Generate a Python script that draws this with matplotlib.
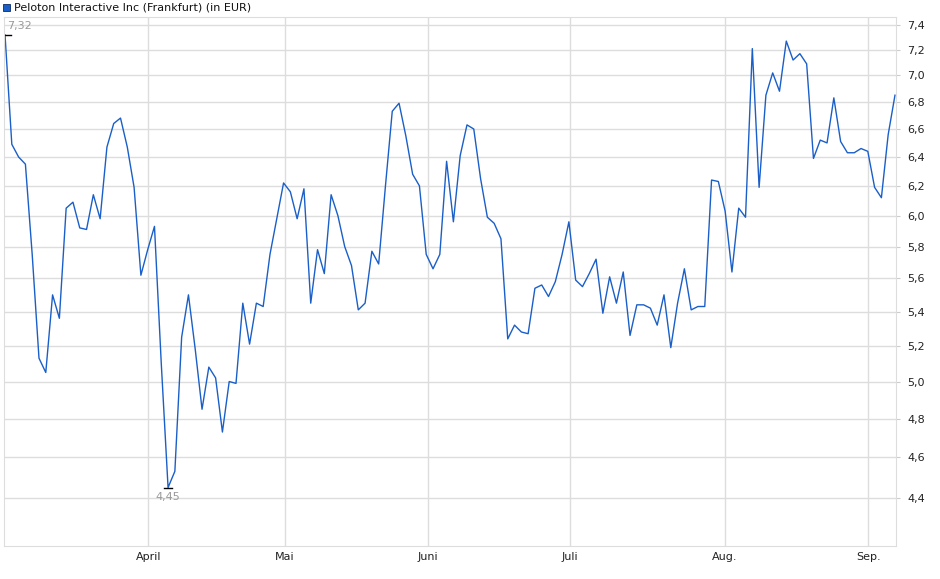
import matplotlib
matplotlib.use("Agg")
import matplotlib.pyplot as plt
from matplotlib.ticker import FixedLocator, NullLocator
import numpy as np

prices = [7.32, 6.49, 6.40, 6.35, 5.75, 5.13, 5.05, 5.50, 5.36, 6.05,
          6.09, 5.92, 5.91, 6.14, 5.98, 6.47, 6.64, 6.68, 6.47, 6.19,
          5.62, 5.78, 5.93, 5.10, 4.45, 4.53, 5.25, 5.50, 5.18, 4.85,
          5.08, 5.02, 4.73, 5.00, 4.99, 5.45, 5.21, 5.45, 5.43, 5.75,
          5.98, 6.22, 6.16, 5.98, 6.18, 5.45, 5.78, 5.63, 6.14, 6.00,
          5.80, 5.68, 5.41, 5.45, 5.77, 5.69, 6.20, 6.73, 6.79, 6.55,
          6.28, 6.20, 5.75, 5.66, 5.75, 6.37, 5.96, 6.41, 6.63, 6.60,
          6.25, 5.99, 5.95, 5.85, 5.24, 5.32, 5.28, 5.27, 5.54, 5.56,
          5.49, 5.58, 5.75, 5.96, 5.59, 5.55, 5.63, 5.72, 5.39, 5.61,
          5.45, 5.64, 5.26, 5.44, 5.44, 5.42, 5.32, 5.50, 5.19, 5.45,
          5.66, 5.41, 5.43, 5.43, 6.24, 6.23, 6.03, 5.64, 6.05, 5.99,
          7.21, 6.19, 6.85, 7.02, 6.88, 7.27, 7.12, 7.17, 7.09, 6.39,
          6.52, 6.50, 6.83, 6.51, 6.43, 6.43, 6.46, 6.44, 6.19, 6.12,
          6.56, 6.85]
month_labels = ["April", "Mai", "Juni", "Juli", "Aug.", "Sep."]
month_pos = [21.1, 41.2, 62.2, 83.2, 106.0, 127.1]
y_ticks = [4.4, 4.6, 4.8, 5.0, 5.2, 5.4, 5.6, 5.8, 6.0, 6.2, 6.4, 6.6, 6.8, 7.0, 7.2, 7.4]
hi_val, lo_val = 7.32, 4.45

W, H = 940, 579
fig = plt.figure(figsize=(W/100, H/100), dpi=100)
ax = fig.add_axes([4/W, 1-546/H, (896-4)/W, (546-17)/H])
x = np.arange(len(prices))
ax.plot(x, prices, color="#1a5fc8", lw=1.0)
ax.set_yscale("log")
ax.set_ylim(4.173, 7.465)
ax.set_xlim(-0.15, len(prices)-1+0.15)
ax.yaxis.set_major_locator(FixedLocator(y_ticks))
ax.yaxis.set_minor_locator(NullLocator())
ax.set_yticklabels([f"{v:.1f}".replace(".", ",") for v in y_ticks])
ax.yaxis.tick_right()
ax.set_xticks(month_pos)
ax.set_xticklabels(month_labels)
ax.tick_params(axis="both", labelsize=8, colors="#222222", length=3, color="#cccccc")
ax.tick_params(axis="y", pad=5)
ax.tick_params(axis="x", length=0, pad=4)
ax.grid(True, color="#dddddd", lw=1)
ax.set_axisbelow(True)
for s in ax.spines.values():
    s.set_color("#dddddd")

i_hi = int(np.argmax(prices)) if prices[0] == hi_val else 0
i_lo = int(np.argmin(prices))
ax.plot([i_hi-0.3, i_hi+0.9], [hi_val, hi_val], color="black", lw=1)
ax.text(i_hi+0.3, hi_val*1.004, "7,32", color="#999999", fontsize=8, ha="left", va="bottom")
ax.plot([i_lo-0.6, i_lo+0.6], [lo_val, lo_val], color="black", lw=1)
ax.text(i_lo, lo_val*0.995, "4,45", color="#999999", fontsize=8, ha="center", va="top")

fig.patches.append(plt.Rectangle((3/W, 1-11/H), 7/W, 7/H, transform=fig.transFigure,
                                 facecolor="#1a5fc8", edgecolor="#0a2a6a", lw=0.6))
fig.text(14/W, 1-7.5/H, "Peloton Interactive Inc (Frankfurt) (in EUR)", fontsize=8,
         va="center", ha="left", color="#111111")
fig.savefig("out.png", dpi=100)
